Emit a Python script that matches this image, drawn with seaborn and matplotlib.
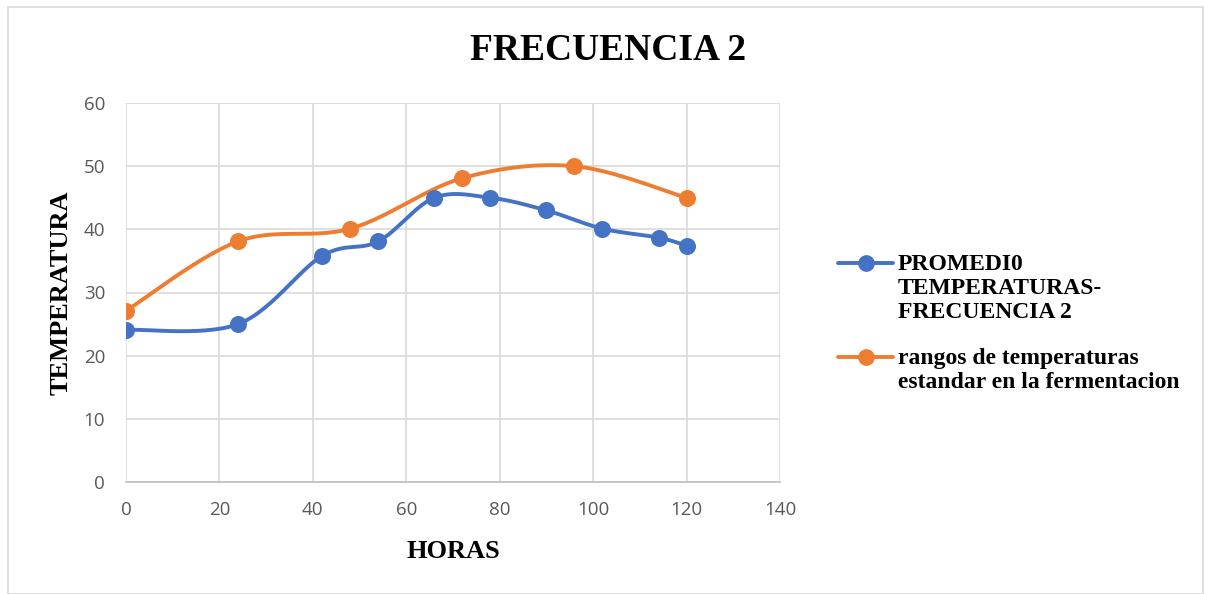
import numpy as np
import pandas as pd
import matplotlib
matplotlib.use("Agg")
import matplotlib.pyplot as plt
import seaborn as sns
from matplotlib.patches import Rectangle
from matplotlib.lines import Line2D

# ---- data ----
horas_prom = [0, 24, 42, 54, 66, 78, 90, 102, 114, 120]
temp_prom = [24.1, 25.0, 35.8, 38.1, 45.0, 45.0, 43.0, 40.1, 38.7, 37.4]
horas_rango = [0, 24, 48, 72, 96, 120]
temp_rango = [27.1, 38.1, 40.1, 48.1, 50.0, 45.0]

serie_prom = "PROMEDI0\nTEMPERATURAS-\nFRECUENCIA 2"
serie_rango = "rangos de temperaturas\nestandar en la fermentacion"
titulo = "FRECUENCIA 2"
xlabel = "HORAS"
ylabel = "TEMPERATURA"

azul = "#4472C4"
naranja = "#ED7D31"


def smooth(x, y, n=30):
    """Excel-like smoothed curve (Catmull-Rom style Bezier)."""
    x = np.asarray(x, float)
    y = np.asarray(y, float)
    pts = np.column_stack([x, y])
    out = []
    for i in range(len(pts) - 1):
        p0 = pts[i - 1] if i > 0 else pts[i]
        p1 = pts[i]
        p2 = pts[i + 1]
        p3 = pts[i + 2] if i + 2 < len(pts) else pts[i + 1]
        c1 = p1 + (p2 - p0) / 6.0
        c2 = p2 - (p3 - p1) / 6.0
        t = np.linspace(0, 1, n)[:, None]
        seg = ((1 - t) ** 3) * p1 + 3 * ((1 - t) ** 2) * t * c1 + 3 * (1 - t) * t ** 2 * c2 + t ** 3 * p2
        out.append(seg if i == 0 else seg[1:])
    seg = np.vstack(out)
    return seg[:, 0], seg[:, 1]


sns.set_theme(style="white")
plt.rcParams["font.family"] = ["Liberation Serif", "DejaVu Serif"]
plt.rcParams["text.color"] = "black"
plt.rcParams["axes.labelcolor"] = "black"

fig = plt.figure(figsize=(12.1, 5.94), dpi=100)
ax = fig.add_axes([126 / 1210, 1 - 482 / 594, (780 - 126) / 1210, (482 - 103) / 594])

for hx, ty, col in [(horas_prom, temp_prom, azul), (horas_rango, temp_rango, naranja)]:
    sx, sy = smooth(hx, ty)
    sns.lineplot(x=sx, y=sy, ax=ax, color=col, linewidth=2.8, sort=False, estimator=None)
    sns.scatterplot(x=hx, y=ty, ax=ax, color=col, s=150, edgecolor=col, linewidth=0, zorder=5)

ax.set_xlim(0, 140)
ax.set_ylim(0, 60)
ax.set_xticks(range(0, 141, 20))
ax.set_yticks(range(0, 61, 10))
ax.grid(True, color="#d9d9d9", linewidth=1.2)
ax.set_axisbelow(True)
for s in ["top", "right", "left"]:
    ax.spines[s].set_visible(False)
ax.spines["bottom"].set_color("#bfbfbf")
ax.spines["bottom"].set_linewidth(1.2)
ax.tick_params(axis="both", length=0, labelcolor="#595959")
ax.tick_params(axis="y", pad=15)
ax.tick_params(axis="x", pad=14)
for lab in ax.get_xticklabels() + ax.get_yticklabels():
    lab.set_fontfamily(["Open Sans", "DejaVu Sans"])
    lab.set_fontsize(13.5)

ax.set_xlabel(xlabel, fontsize=19, fontweight="bold", labelpad=15)
ax.set_ylabel(ylabel, fontsize=19, fontweight="bold", labelpad=8)
fig.text(608 / 1210, 1 - 51 / 594, titulo, ha="center", va="center",
         fontsize=27, fontweight="bold")

# legend drawn manually so the handle sits on the first text line
leg_entries = [(serie_prom, azul, 263), (serie_rango, naranja, 357)]
for label, col, ypx in leg_entries:
    yf = 1 - ypx / 594
    fig.add_artist(Line2D([838 / 1210, 893 / 1210], [yf, yf], color=col,
                          linewidth=2.8, transform=fig.transFigure))
    fig.add_artist(Line2D([865.5 / 1210], [yf], color=col, marker="o",
                          markersize=11, linewidth=0, transform=fig.transFigure))
    t = fig.text(898 / 1210, 1 - (ypx - 9) / 594, label, ha="left", va="top",
                 fontsize=17, fontweight="bold", linespacing=1.2)

fig.patches.append(Rectangle((8 / 1210, 0), 1195 / 1210, 1 - 7 / 594,
                             transform=fig.transFigure, fill=False,
                             edgecolor="#d9d9d9", linewidth=1.2))

fig.savefig("out.png", dpi=100)
